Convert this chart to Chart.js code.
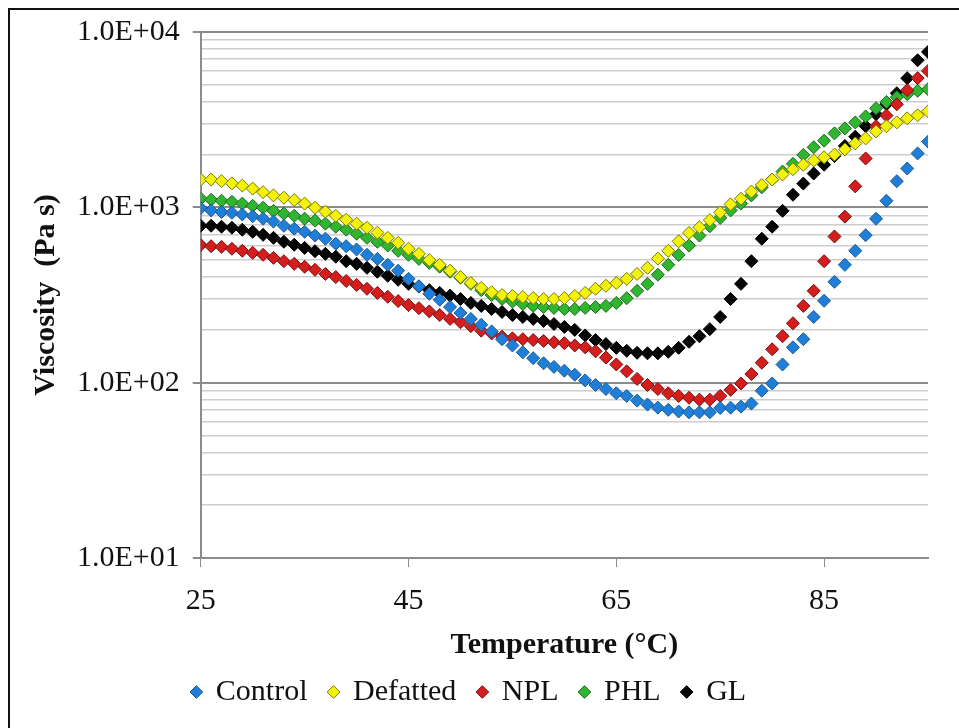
<!DOCTYPE html>
<html lang="en">
<head>
  <meta charset="UTF-8">
  <title>Viscosity vs Temperature</title>
  <style>
    html, body {
      margin: 0;
      padding: 0;
      background: #fff;
    }
    #wrap {
      position: relative;
      width: 959px;
      height: 728px;
    }
  </style>
</head>
<body>
  <div id="wrap"><canvas id="chart" width="959" height="728"></canvas></div>

  <script src="https://cdn.jsdelivr.net/npm/chart.js"></script>
  <script>
    // Temperature (°C), one reading per degree
    const temps = [
      25, 26, 27, 28, 29, 30, 31, 32, 33, 34, 35, 36, 37, 38, 39, 40, 41, 42, 43, 44,
      45, 46, 47, 48, 49, 50, 51, 52, 53, 54, 55, 56, 57, 58, 59, 60, 61, 62, 63, 64,
      65, 66, 67, 68, 69, 70, 71, 72, 73, 74, 75, 76, 77, 78, 79, 80, 81, 82, 83, 84,
      85, 86, 87, 88, 89, 90, 91, 92, 93, 94, 95
    ];

    // Viscosity (Pa s)
    const control = [
      990, 960, 940, 930, 910, 890, 861, 830, 785, 755, 725, 690, 662, 620, 600, 575, 536, 508, 470, 435,
      391, 355, 321, 297, 270, 250, 231, 214, 196, 177, 163, 149, 138, 129, 123, 117, 111, 103, 97, 92,
      87, 84, 79, 75, 72, 70, 68.5, 67.7, 67.7, 67.7, 71.7, 72, 73, 76, 90, 99, 127, 159, 177, 237,
      293, 376, 470, 565, 693, 861, 1090, 1410, 1665, 2030, 2370
    ];
    const defatted = [
      1440, 1440, 1410, 1370, 1330, 1279, 1220, 1170, 1135, 1100, 1050, 995, 945, 895, 850, 807, 765, 717, 670, 628,
      580, 543, 500, 470, 435, 400, 370, 347, 328, 316, 312, 308, 304, 300, 300, 304, 312, 325, 343, 357,
      370, 391, 417, 452, 510, 565, 640, 715, 770, 845, 935, 1040, 1120, 1230, 1340, 1440, 1540, 1650, 1750, 1850,
      1930, 2000, 2140, 2315, 2473, 2710, 2900, 3050, 3220, 3350, 3530
    ];
    const npl = [
      610, 600, 595, 580, 565, 550, 536, 515, 493, 476, 458, 440, 417, 400, 380, 361, 343, 325, 309, 292,
      277, 266, 255, 243, 231, 221, 210, 198, 191, 183, 179, 177, 175, 173, 170, 168, 163, 159, 151, 139,
      127, 116, 105, 97, 92, 87, 84, 82, 80, 80, 84, 91, 99, 112, 130, 155, 184, 218, 274, 334,
      493, 682, 885, 1317, 1900, 2900, 3340, 3870, 4660, 5455, 6000
    ];
    const phl = [
      1121, 1105, 1090, 1075, 1050, 1020, 995, 955, 920, 895, 861, 840, 807, 775, 745, 707, 670, 636, 605, 565,
      536, 508, 482, 458, 429, 397, 366, 337, 316, 300, 290, 281, 274, 270, 267, 263, 263, 267, 270, 274,
      285, 303, 334, 366, 413, 470, 535, 605, 690, 780, 870, 960, 1050, 1170, 1300, 1440, 1600, 1770, 1990, 2200,
      2400, 2642, 2821, 3050, 3300, 3673, 3990, 4250, 4420, 4620, 4720
    ];
    const gl = [
      785, 785, 775, 765, 745, 725, 697, 670, 636, 612, 587, 562, 543, 523, 493, 476, 452, 429, 407, 386,
      366, 353, 337, 325, 314, 300, 285, 274, 263, 253, 243, 237, 231, 225, 216, 208, 200, 186, 175, 166,
      158, 152, 148, 147, 147, 150, 158, 171, 184, 202, 237, 300, 366, 493, 662, 775, 955, 1180, 1366, 1559,
      1750, 1960, 2240, 2530, 2900, 3400, 3870, 4475, 5455, 6900, 7700
    ];

    const seriesNames = ['Control', 'Defatted', 'NPL', 'PHL', 'GL'];
    const xTicks = [25, 45, 65, 85];
    const yMajorTicks = [10, 100, 1000, 10000];

    const fills = ['#1f7fd8', '#f2f20a', '#d41e1e', '#2fb52f', '#050505'];
    const borders = ['#1a5a96', '#7d7a00', '#7a0d0d', '#1d6b1d', '#000000'];

    const serif = '"Liberation Serif", "Times New Roman", serif';

    function makeSet(i, values) {
      return {
        label: seriesNames[i],
        data: temps.map((t, k) => ({ x: t, y: values[k] })),
        showLine: false,
        pointStyle: 'rectRot',
        pointRadius: 6.5,
        pointBorderWidth: 1,
        backgroundColor: fills[i],
        borderColor: borders[i],
        pointBackgroundColor: fills[i],
        pointBorderColor: borders[i]
      };
    }

    // left and top edge of the frame
    const framePlugin = {
      id: 'frame',
      afterDraw(chart) {
        const c = chart.ctx;
        c.save();
        c.strokeStyle = '#111';
        c.lineWidth = 2;
        c.beginPath();
        c.moveTo(959, 9);
        c.lineTo(9, 9);
        c.lineTo(9, 728);
        c.stroke();
        c.restore();
      }
    };

    const isMajor = v => yMajorTicks.includes(v);

    // default legend items, with a little extra room after each name
    const legendItems = chart =>
      Chart.defaults.plugins.legend.labels.generateLabels(chart).map((item, i, all) => {
        if (i < all.length - 1) item.text += '\u2005';
        return item;
      });

    new Chart(document.getElementById('chart'), {
      type: 'scatter',
      data: {
        datasets: [
          makeSet(0, control),
          makeSet(1, defatted),
          makeSet(2, npl),
          makeSet(3, phl),
          makeSet(4, gl)
        ]
      },
      options: {
        responsive: false,
        animation: false,
        layout: { padding: { left: 10, right: 31, top: 32, bottom: 11 } },
        plugins: {
          legend: {
            position: 'bottom',
            labels: {
              usePointStyle: true,
              pointStyle: 'rectRot',
              boxWidth: 9,
              boxHeight: 9,
              padding: 14,
              color: '#111',
              font: { family: serif, size: 30 },
              generateLabels: legendItems
            }
          },
          tooltip: { enabled: false }
        },
        scales: {
          x: {
            type: 'linear',
            min: 25,
            max: 95,
            afterBuildTicks: axis => { axis.ticks = xTicks.map(v => ({ value: v })); },
            grid: {
              drawOnChartArea: false,
              drawTicks: true,
              tickLength: 9,
              tickColor: '#8c8c8c'
            },
            border: { color: '#8c8c8c', width: 2 },
            ticks: {
              color: '#111',
              padding: 16,
              maxRotation: 0,
              font: { family: serif, size: 30 }
            },
            title: {
              display: true,
              text: 'Temperature (\u00B0C)',
              color: '#111',
              padding: { top: -8, bottom: 0 },
              font: { family: serif, size: 30, weight: 'bold' }
            }
          },
          y: {
            type: 'logarithmic',
            min: 10,
            max: 10000,
            afterBuildTicks: axis => {
              const ticks = [];
              yMajorTicks.forEach((m, i) => {
                ticks.push({ value: m, major: true });
                if (i < yMajorTicks.length - 1) {
                  for (let k = 2; k <= 9; k++) ticks.push({ value: m * k });
                }
              });
              axis.ticks = ticks;
            },
            grid: {
              color: ctx => (ctx.tick && isMajor(ctx.tick.value)) ? '#8c8c8c' : '#cdcdcd',
              lineWidth: ctx => (ctx.tick && isMajor(ctx.tick.value)) ? 2 : 1.5,
              tickColor: ctx => (ctx.tick && isMajor(ctx.tick.value)) ? '#8c8c8c' : 'rgba(0,0,0,0)',
              tickLength: 8
            },
            border: { color: '#8c8c8c', width: 2 },
            ticks: {
              autoSkip: false,
              color: '#111',
              padding: 13,
              font: { family: serif, size: 30 },
              callback: v => isMajor(v) ? '1.0E+0' + Math.round(Math.log10(v)) : ''
            },
            title: {
              display: true,
              text: 'Viscosity  (Pa s)',
              color: '#111',
              padding: { top: 18, bottom: 0 },
              font: { family: serif, size: 30, weight: 'bold' }
            }
          }
        }
      },
      plugins: [framePlugin]
    });
  </script>
</body>
</html>
